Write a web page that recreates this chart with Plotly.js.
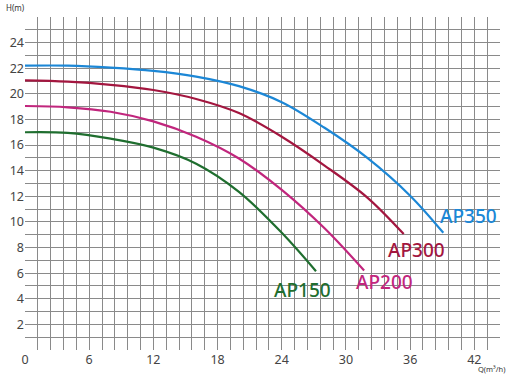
<!DOCTYPE html>
<html>
<head>
<meta charset="utf-8">
<script src="https://cdn.plot.ly/plotly-3.0.1.min.js"></script>
<style>html,body{margin:0;padding:0;background:#fff;}#chart{width:509px;height:379px;}</style>
</head>
<body>
<div id="chart"></div>
<script>
const ap350Q = [0, 4, 8, 12, 16, 20, 24, 28, 32, 36, 39.1];
const ap350H = [22.2, 22.2, 22.05, 21.8, 21.35, 20.6, 19.35, 17.35, 15.0, 12.05, 9.15];
const ap300Q = [0, 4, 8, 12, 16, 20, 24, 28, 32, 35.4];
const ap300H = [21.05, 20.95, 20.7, 20.3, 19.6, 18.5, 16.65, 14.4, 11.9, 9.05];
const ap200Q = [0, 4, 8, 12, 16, 20, 24, 28, 31.7];
const ap200H = [19.05, 18.95, 18.6, 17.85, 16.65, 14.95, 12.5, 9.5, 6.2];
const ap150Q = [0, 4, 8, 12, 16, 20, 24, 27.2];
const ap150H = [17.0, 16.95, 16.5, 15.8, 14.55, 12.35, 9.15, 6.15];
const names = ["AP350", "AP300", "AP200", "AP150"];
const colors = ["#1c87d6", "#a3163f", "#c1267d", "#1f6e2f"];
const labelQ = [41.5, 36.6, 33.6, 25.9];
const labelH = [10.5, 7.8, 5.3, 4.7];

const series = [[ap350Q, ap350H], [ap300Q, ap300H], [ap200Q, ap200H], [ap150Q, ap150H]];
const data = series.map((s, i) => ({
  x: s[0], y: s[1], type: "scatter", mode: "lines",
  line: {color: colors[i], width: 2.2, shape: "spline", smoothing: 1},
  hoverinfo: "skip", showlegend: false
}));

const annotations = names.map((n, i) => ({
  x: labelQ[i], y: labelH[i], xref: "x", yref: "y", text: n, showarrow: false,
  font: {family: "Noto Sans, Open Sans, sans-serif", size: 19, weight: 500, color: colors[i]}
}));
annotations.push({xref: "paper", yref: "paper", x: -0.045, y: 1.005, xanchor: "left", yanchor: "bottom",
  text: "H(m)", showarrow: false, font: {family: "Noto Sans, sans-serif", size: 8, color: "#333"}});
annotations.push({xref: "paper", yref: "paper", x: 1.015, y: -0.035, xanchor: "right", yanchor: "top",
  text: "Q(m³/h)", showarrow: false, font: {family: "Noto Sans, sans-serif", size: 7.5, color: "#333"}});

const layout = {
  width: 509, height: 379,
  margin: {l: 25, r: 9, t: 17, b: 29},
  paper_bgcolor: "#fff", plot_bgcolor: "#fff",
  font: {family: "Noto Sans, Open Sans, sans-serif", color: "#444"},
  xaxis: {
    range: [0, 44.4], dtick: 6, tick0: 0, showgrid: true, gridcolor: "#8a8a8a", gridwidth: 1,
    minor: {dtick: 1.2, showgrid: true, gridcolor: "#8a8a8a", gridwidth: 1},
    zeroline: false, showline: false, ticks: "", ticklen: 0,
    tickfont: {size: 12.5, color: "#444"}, fixedrange: true
  },
  yaxis: {
    range: [0, 26], dtick: 2, tick0: 0, showgrid: true, gridcolor: "#8a8a8a", gridwidth: 1,
    minor: {dtick: 1, showgrid: true, gridcolor: "#8a8a8a", gridwidth: 1},
    zeroline: false, showline: false, ticks: "",
    tickvals: [2, 4, 6, 8, 10, 12, 14, 16, 18, 20, 22, 24],
    tickfont: {size: 12.5, color: "#444"}, fixedrange: true
  },
  annotations: annotations
};
Plotly.newPlot("chart", data, layout, {staticPlot: true, displayModeBar: false});
</script>
</body>
</html>
